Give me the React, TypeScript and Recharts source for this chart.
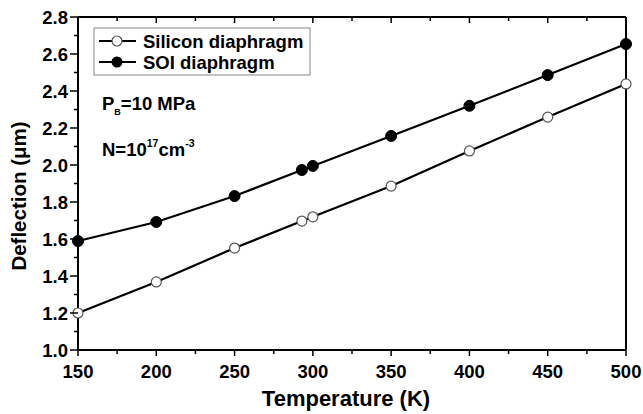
import React from 'react';
import { LineChart, Line, XAxis, YAxis } from 'recharts';

const temps = [150, 200, 250, 293, 300, 350, 400, 450, 500];
const silicon = [1.2, 1.368, 1.551, 1.697, 1.72, 1.886, 2.076, 2.259, 2.438];
const soi = [1.589, 1.692, 1.832, 1.973, 1.995, 2.157, 2.32, 2.486, 2.654];

const xTicks = [150, 175, 200, 225, 250, 275, 300, 325, 350, 375, 400, 425, 450, 475, 500];
const yTicks = [1.0, 1.1, 1.2, 1.3, 1.4, 1.5, 1.6, 1.7, 1.8, 1.9, 2.0, 2.1, 2.2, 2.3, 2.4, 2.5, 2.6, 2.7, 2.8];

const data = temps.map((t, i) => ({ t, silicon: silicon[i], soi: soi[i] }));

const font = '"Liberation Sans", Arial, sans-serif';

const isMajorX = (v: number) => v % 50 === 0;
const isMajorY = (v: number) => Math.round(v * 10) % 2 === 0;

const BottomTick = (props: any) => {
  const { x, y, payload } = props;
  const major = isMajorX(payload.value);
  return (
    <g>
      <line x1={x} y1={y} x2={x} y2={y + (major ? 6 : 4)} stroke="#000" strokeWidth={1.5} />
      {major && (
        <text x={x} y={y + 28} textAnchor="middle" fontFamily={font} fontWeight="bold" fontSize={18.5} fill="#000">
          {payload.value}
        </text>
      )}
    </g>
  );
};

const TopTick = (props: any) => {
  const { x, y, payload } = props;
  const major = isMajorX(payload.value);
  return <line x1={x} y1={y} x2={x} y2={y + (major ? 6 : 4)} stroke="#000" strokeWidth={1.5} />;
};

const LeftTick = (props: any) => {
  const { x, y, payload } = props;
  const major = isMajorY(payload.value);
  return (
    <g>
      <line x1={x} y1={y} x2={x - (major ? 8 : 4)} y2={y} stroke="#000" strokeWidth={1.5} />
      {major && (
        <text x={x - 10} y={y + 6.5} textAnchor="end" fontFamily={font} fontWeight="bold" fontSize={18.5} fill="#000">
          {payload.value.toFixed(1)}
        </text>
      )}
    </g>
  );
};

const RightTick = (props: any) => {
  const { x, y, payload } = props;
  const major = isMajorY(payload.value);
  return <line x1={x} y1={y} x2={x - (major ? 6 : 4)} y2={y} stroke="#000" strokeWidth={1.5} />;
};

// legend drawn by hand, the box sits over the plot
const LegendBox = () => (
  <svg width={218} height={49} style={{ position: 'absolute', left: 93, top: 27 }}>
    <rect x={1} y={1} width={216} height={47} fill="#fff" stroke="#888" strokeWidth={1} />
    <line x1={6} y1={14} x2={43} y2={14} stroke="#000" strokeWidth={2.2} />
    <circle cx={24} cy={14} r={5} fill="#fff" stroke="#555" strokeWidth={1.2} />
    <text x={50} y={20.5} fontFamily={font} fontWeight="bold" fontSize={18.5} fill="#000">Silicon diaphragm</text>
    <line x1={6} y1={35} x2={43} y2={35} stroke="#000" strokeWidth={2.2} />
    <circle cx={24} cy={35} r={5.5} fill="#000" />
    <text x={50} y={41.5} fontFamily={font} fontWeight="bold" fontSize={18.5} fill="#000">SOI diaphragm</text>
  </svg>
);

const YTitle = () => (
  <text
    transform="translate(26, 196) rotate(-90)"
    textAnchor="middle"
    fontFamily={font}
    fontWeight="bold"
    fontSize={20.5}
    fill="#000"
  >
    {'Deflection (\u03bcm)'}
  </text>
);

const XTitle = () => (
  <text x={346} y={406} textAnchor="middle" fontFamily={font} fontWeight="bold" fontSize={22} fill="#000">
    Temperature (K)
  </text>
);

const noteStyle = {
  position: 'absolute' as const,
  left: 102,
  fontFamily: font,
  fontWeight: 'bold' as const,
  fontSize: 18.5,
  lineHeight: '32px',
  color: '#000',
  whiteSpace: 'nowrap' as const,
};
const subStyle = { fontSize: 9, lineHeight: 0 };
const supStyle = { fontSize: 10.5, lineHeight: 0, position: 'relative' as const, top: -2 };

export default function App() {
  return (
    <div style={{ position: 'absolute', left: 0, top: 0, width: 643, height: 414, background: '#fff' }}>
      <LineChart width={643} height={414} data={data} margin={{ top: 16, right: 16, bottom: 0, left: 0 }}>
        <XAxis
          dataKey="t"
          type="number"
          domain={[150, 500]}
          ticks={xTicks}
          interval={0}
          height={64}
          tickSize={0}
          tickMargin={0}
          tick={<BottomTick />}
          axisLine={{ stroke: '#000', strokeWidth: 2 }}
          label={<XTitle />}
        />
        <XAxis
          xAxisId="top"
          dataKey="t"
          type="number"
          orientation="top"
          domain={[150, 500]}
          ticks={xTicks}
          interval={0}
          height={1}
          tickSize={0}
          tickMargin={0}
          tick={<TopTick />}
          axisLine={{ stroke: '#000', strokeWidth: 2 }}
        />
        <YAxis
          type="number"
          domain={[1.0, 2.8]}
          ticks={yTicks}
          interval={0}
          width={78}
          tickSize={0}
          tickMargin={0}
          tick={<LeftTick />}
          axisLine={{ stroke: '#000', strokeWidth: 2 }}
          label={<YTitle />}
        />
        <YAxis
          yAxisId="right"
          type="number"
          orientation="right"
          domain={[1.0, 2.8]}
          ticks={yTicks}
          interval={0}
          width={1}
          tickSize={0}
          tickMargin={0}
          tick={<RightTick />}
          axisLine={{ stroke: '#000', strokeWidth: 2 }}
        />
        <Line
          type="linear"
          dataKey="silicon"
          name="Silicon diaphragm"
          stroke="#000"
          strokeWidth={2.2}
          dot={{ r: 5, fill: '#fff', stroke: '#555', strokeWidth: 1.2 }}
          isAnimationActive={false}
        />
        <Line
          type="linear"
          dataKey="soi"
          name="SOI diaphragm"
          stroke="#000"
          strokeWidth={2.2}
          dot={{ r: 5.5, fill: '#000', stroke: '#000', strokeWidth: 1 }}
          isAnimationActive={false}
        />
      </LineChart>
      <LegendBox />
      <div style={{ ...noteStyle, top: 88 }}>
        P<sub style={subStyle}>B</sub>=10 MPa
      </div>
      <div style={{ ...noteStyle, top: 134 }}>
        N=10<sup style={supStyle}>17</sup>cm<sup style={supStyle}>-3</sup>
      </div>
    </div>
  );
}
